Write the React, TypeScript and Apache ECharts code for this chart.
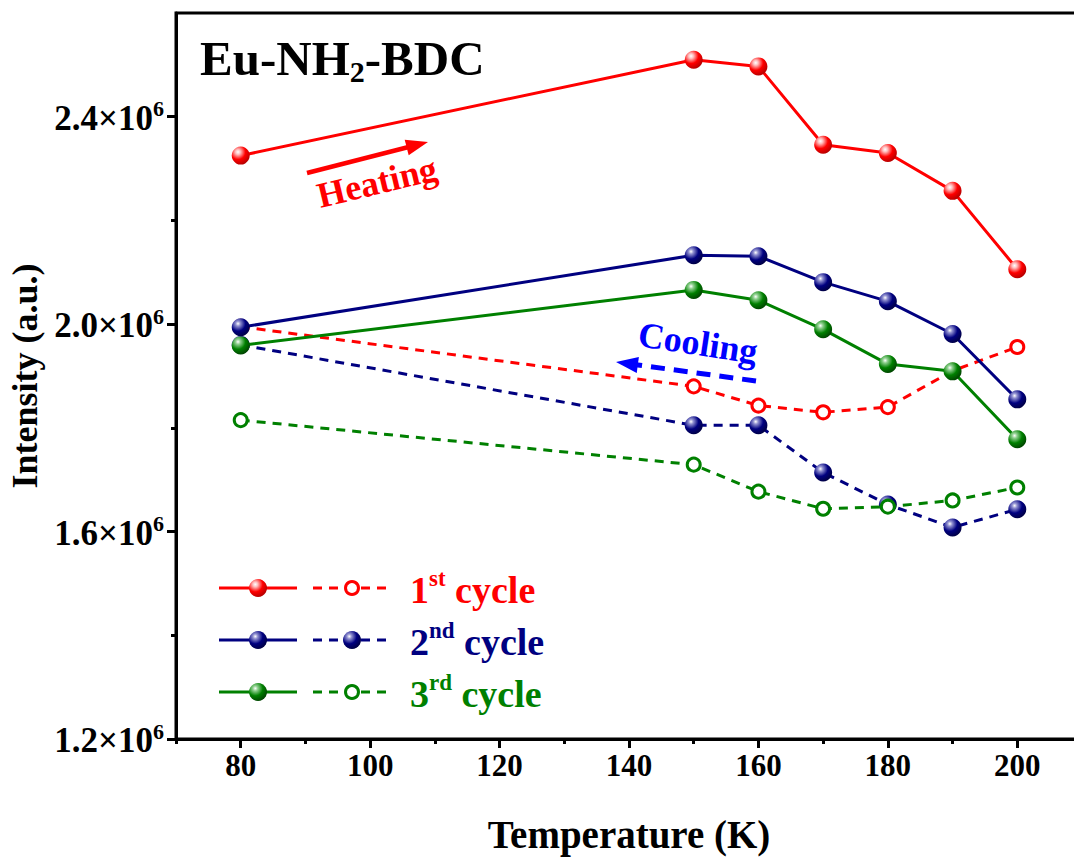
import React, { useEffect, useRef } from "react";
import * as echarts from "echarts";

// Temperatures measured in each heating / cooling sweep (K)
const temperatures = [80, 150, 160, 170, 180, 190, 200];

// Integrated emission intensity (a.u.), in temperature order
const heating1 = [2.325e6, 2.51e6, 2.497e6, 2.346e6, 2.33e6, 2.257e6, 2.106e6];
const cooling1 = [1.995e6, 1.88e6, 1.843e6, 1.83e6, 1.84e6, 1.91e6, 1.956e6];
const heating2 = [1.994e6, 2.133e6, 2.131e6, 2.081e6, 2.044e6, 1.981e6, 1.855e6];
const cooling2 = [1.96e6, 1.805e6, 1.805e6, 1.714e6, 1.652e6, 1.608e6, 1.643e6];
const heating3 = [1.959e6, 2.066e6, 2.046e6, 1.99e6, 1.923e6, 1.909e6, 1.778e6];
const cooling3 = [1.815e6, 1.729e6, 1.677e6, 1.644e6, 1.648e6, 1.66e6, 1.685e6];

// Axis ticks
const xMajorTicks = [80, 100, 120, 140, 160, 180, 200];
const xMinorTicks = [70, 90, 110, 130, 150, 170, 190, 210];
const yMajorTicks = [1.2e6, 1.6e6, 2.0e6, 2.4e6];
const yMinorTicks = [1.4e6, 1.8e6, 2.2e6];

const cycleNames = ["1", "2", "3"];
const cycleSuffixes = ["st", "nd", "rd"];

const SERIF = '"Liberation Serif", "Times New Roman", serif';

const palette = [
  { base: "#ff0000", light: "#ffc0c0", dark: "#b00000" },
  { base: "#000080", light: "#9090d0", dark: "#000040" },
  { base: "#008000", light: "#90d090", dark: "#004000" },
];

const sphere = (c: { base: string; light: string; dark: string }) =>
  new echarts.graphic.RadialGradient(0.35, 0.3, 0.75, [
    { offset: 0, color: "#ffffff" },
    { offset: 0.18, color: c.light },
    { offset: 0.55, color: c.base },
    { offset: 1, color: c.dark },
  ]);

const pairs = (vals: number[]) => temperatures.map((t, i) => [t, vals[i]]);

function lineSeries(
  name: string,
  vals: number[],
  ci: number,
  dashed: boolean,
  filled: boolean,
  z: number
) {
  const c = palette[ci];
  return {
    name,
    type: "line",
    data: pairs(vals),
    z,
    symbol: "circle",
    symbolSize: filled ? 18 : 13,
    lineStyle: {
      color: c.base,
      width: 3,
      type: dashed ? [9, 7] : "solid",
    },
    itemStyle: filled
      ? { color: sphere(c), borderWidth: 0 }
      : { color: "#ffffff", borderColor: c.base, borderWidth: 3 },
    emphasis: { disabled: true },
  };
}

export default function App() {
  const ref = useRef<HTMLDivElement>(null);

  useEffect(() => {
    if (!ref.current) return;
    const chart = echarts.init(ref.current, undefined, { renderer: "svg" });

    // Legend rows drawn as graphics: solid heating sample, dashed cooling sample, label
    const legendRowsY = [588, 640, 692];
    const legendGraphics: any[] = [];
    legendRowsY.forEach((y, i) => {
      const c = palette[i];
      const coolFilled = i === 1;
      legendGraphics.push(
        { type: "line", shape: { x1: 219, y1: y, x2: 297, y2: y }, style: { stroke: c.base, lineWidth: 3 } },
        { type: "circle", shape: { cx: 258, cy: y, r: 9 }, style: { fill: sphere(c) } },
        { type: "line", shape: { x1: 313, y1: y, x2: 387, y2: y }, style: { stroke: c.base, lineWidth: 3, lineDash: [9, 7] } },
        coolFilled
          ? { type: "circle", shape: { cx: 352, cy: y, r: 9 }, style: { fill: sphere(c) } }
          : { type: "circle", shape: { cx: 352, cy: y, r: 6.5 }, style: { fill: "#ffffff", stroke: c.base, lineWidth: 3 } },
        {
          type: "text",
          x: 410,
          y,
          style: {
            text: `{n|${cycleNames[i]}}{s|${cycleSuffixes[i]}}{n| cycle}`,
            verticalAlign: "middle",
            fill: c.base,
            rich: {
              n: { fontFamily: SERIF, fontWeight: "bold", fontSize: 38, fill: c.base, lineHeight: 42, verticalAlign: "bottom" },
              s: { fontFamily: SERIF, fontWeight: "bold", fontSize: 23, fill: c.base, lineHeight: 23, verticalAlign: "top" },
            },
          },
        }
      );
    });

    // Heating arrow (solid) and cooling arrow (dashed)
    const heatStart = [307, 173];
    const heatTip = [428, 142];
    const coolStart = [756, 381];
    const coolTip = [616, 362];

    const arrowHead = (from: number[], tip: number[], len: number, half: number) => {
      const dx = tip[0] - from[0];
      const dy = tip[1] - from[1];
      const L = Math.hypot(dx, dy);
      const ux = dx / L;
      const uy = dy / L;
      const bx = tip[0] - ux * len;
      const by = tip[1] - uy * len;
      return [
        [tip[0], tip[1]],
        [bx - uy * half, by + ux * half],
        [bx + uy * half, by - ux * half],
      ];
    };
    const shorten = (from: number[], tip: number[], d: number) => {
      const dx = tip[0] - from[0];
      const dy = tip[1] - from[1];
      const L = Math.hypot(dx, dy);
      return [tip[0] - (dx / L) * d, tip[1] - (dy / L) * d];
    };
    const heatEnd = shorten(heatStart, heatTip, 18);
    const coolEnd = shorten(coolStart, coolTip, 18);

    chart.setOption({
      animation: false,
      backgroundColor: "#ffffff",
      grid: {
        left: 176,
        top: 13,
        right: -8,
        bottom: 120,
        show: true,
        borderColor: "#000000",
        borderWidth: 3,
        containLabel: false,
        outerBoundsMode: "none",
      },
      xAxis: [
        {
          type: "value",
          min: 70,
          max: 210,
          position: "bottom",
          axisLine: { show: true, onZero: false, lineStyle: { color: "#000", width: 3 } },
          axisTick: { show: true, customValues: xMajorTicks, length: 9, lineStyle: { color: "#000", width: 3 } },
          axisLabel: {
            customValues: xMajorTicks,
            color: "#000",
            fontFamily: SERIF,
            fontWeight: "bold",
            fontSize: 31,
            margin: 11,
          },
          splitLine: { show: false },
          name: "Temperature (K)",
          nameLocation: "middle",
          nameGap: 76,
          nameTextStyle: { color: "#000", fontFamily: SERIF, fontWeight: "bold", fontSize: 39 },
        },
        {
          type: "value",
          min: 70,
          max: 210,
          position: "bottom",
          axisLine: { show: false, onZero: false },
          axisTick: { show: true, customValues: xMinorTicks, length: 5, lineStyle: { color: "#000", width: 3 } },
          axisLabel: { show: false },
          splitLine: { show: false },
        },
      ],
      yAxis: [
        {
          type: "value",
          min: 1.2e6,
          max: 2.6e6,
          position: "left",
          axisLine: { show: true, onZero: false, lineStyle: { color: "#000", width: 3 } },
          axisTick: { show: true, customValues: yMajorTicks, length: 9, lineStyle: { color: "#000", width: 3 } },
          axisLabel: {
            customValues: yMajorTicks,
            margin: 12,
            formatter: (v: number) => `{m|${(v / 1e6).toFixed(1)}×10}{s|6}`,
            rich: {
              m: { color: "#000", fontFamily: SERIF, fontWeight: "bold", fontSize: 35, lineHeight: 38, verticalAlign: "bottom" },
              s: { color: "#000", fontFamily: SERIF, fontWeight: "bold", fontSize: 22, lineHeight: 22, verticalAlign: "top" },
            },
          },
          splitLine: { show: false },
          name: "Intensity (a.u.)",
          nameLocation: "middle",
          nameGap: 128,
          nameTextStyle: { color: "#000", fontFamily: SERIF, fontWeight: "bold", fontSize: 36 },
        },
        {
          type: "value",
          min: 1.2e6,
          max: 2.6e6,
          position: "left",
          axisLine: { show: false, onZero: false },
          axisTick: { show: true, customValues: yMinorTicks, length: 5, lineStyle: { color: "#000", width: 3 } },
          axisLabel: { show: false },
          splitLine: { show: false },
        },
      ],
      series: [
        lineSeries("1st cooling", cooling1, 0, true, false, 2),
        lineSeries("2nd cooling", cooling2, 1, true, true, 3),
        lineSeries("3rd cooling", cooling3, 2, true, false, 4),
        lineSeries("1st heating", heating1, 0, false, true, 5),
        lineSeries("2nd heating", heating2, 1, false, true, 6),
        lineSeries("3rd heating", heating3, 2, false, true, 7),
      ],
      graphic: [
        {
          type: "text",
          x: 200,
          y: 60,
          style: {
            text: "{t|Eu-NH}{u|2}{t|-BDC}",
            verticalAlign: "middle",
            rich: {
              t: { fontFamily: SERIF, fontWeight: "bold", fontSize: 49, fill: "#000", lineHeight: 52, verticalAlign: "top" },
              u: { fontFamily: SERIF, fontWeight: "bold", fontSize: 30, fill: "#000", lineHeight: 30, verticalAlign: "bottom" },
            },
          },
        },
        {
          type: "line",
          shape: { x1: heatStart[0], y1: heatStart[1], x2: heatEnd[0], y2: heatEnd[1] },
          style: { stroke: "#ff0000", lineWidth: 4.5 },
        },
        {
          type: "polygon",
          shape: { points: arrowHead(heatStart, heatTip, 22, 8) },
          style: { fill: "#ff0000" },
        },
        {
          type: "text",
          x: 377,
          y: 182,
          rotation: 0.235,
          style: {
            text: "Heating",
            align: "center",
            verticalAlign: "middle",
            fill: "#ff0000",
            fontFamily: SERIF,
            fontWeight: "bold",
            fontSize: 36,
          },
        },
        {
          type: "line",
          shape: { x1: coolStart[0], y1: coolStart[1], x2: coolEnd[0], y2: coolEnd[1] },
          style: { stroke: "#0000ff", lineWidth: 5, lineDash: [14, 9] },
        },
        {
          type: "polygon",
          shape: { points: arrowHead(coolStart, coolTip, 22, 8) },
          style: { fill: "#0000ff" },
        },
        {
          type: "text",
          x: 698,
          y: 343,
          rotation: -0.15,
          style: {
            text: "Cooling",
            align: "center",
            verticalAlign: "middle",
            fill: "#0000ff",
            fontFamily: SERIF,
            fontWeight: "bold",
            fontSize: 36,
          },
        },
        ...legendGraphics,
      ],
    });

    return () => chart.dispose();
  }, []);

  return (
    <div
      ref={ref}
      style={{ position: "fixed", left: 0, top: 0, width: 1074, height: 859, background: "#fff" }}
    />
  );
}
